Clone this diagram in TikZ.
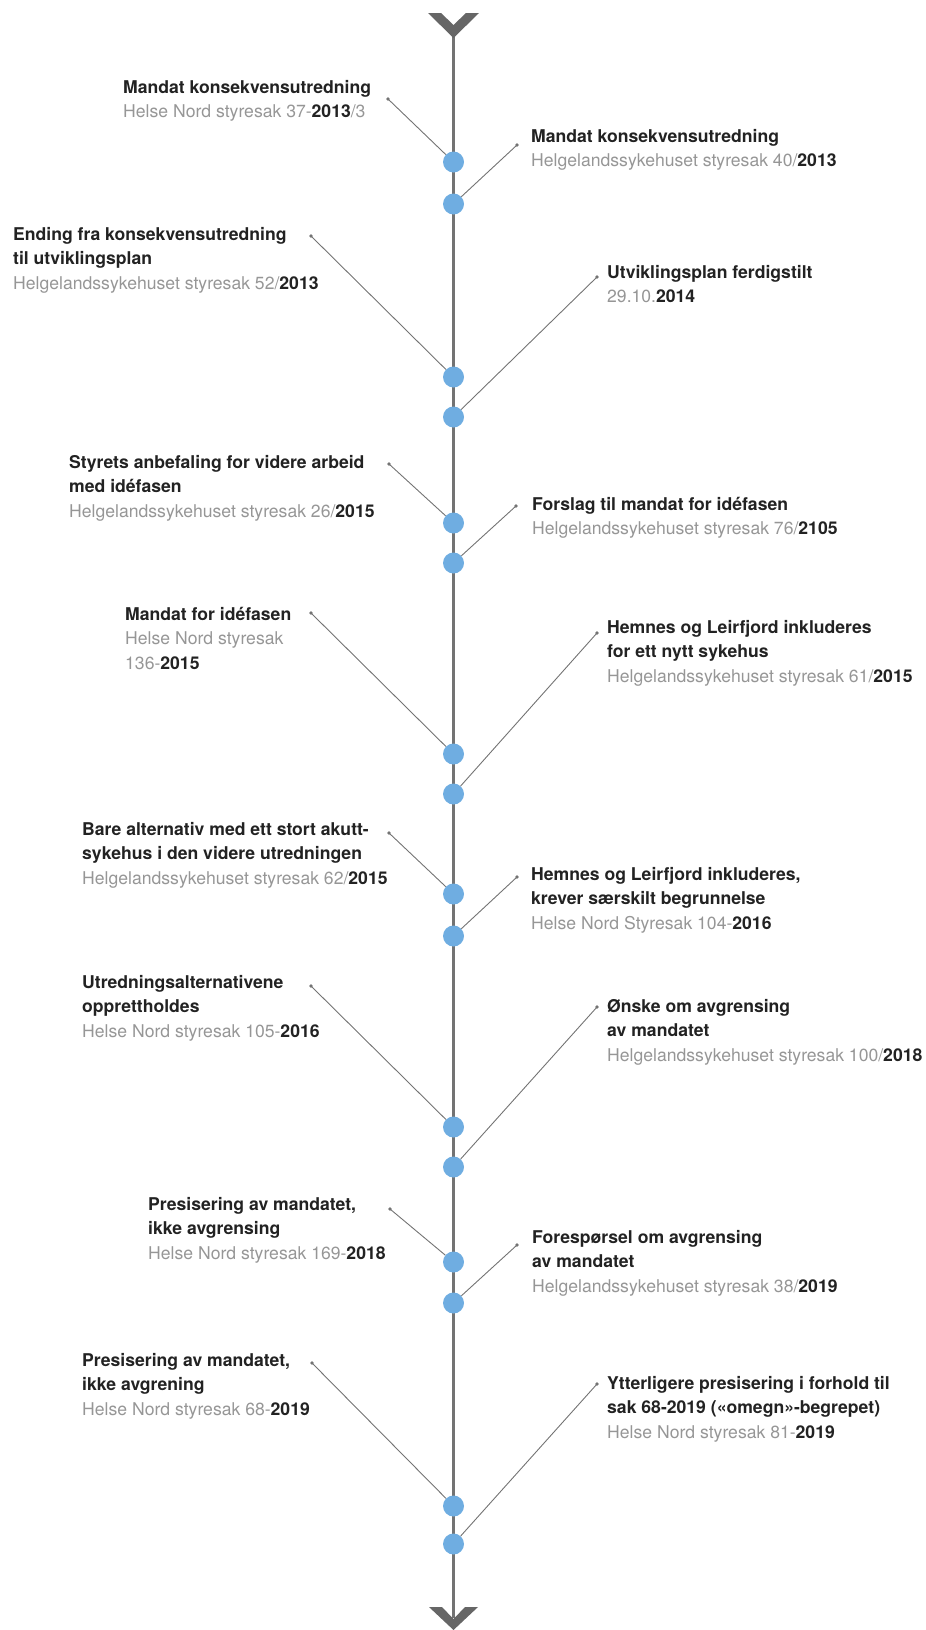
\documentclass[tikz,border=0pt]{standalone}
\usepackage{fontspec}
\setmainfont{TeX Gyre Heros}
\definecolor{dotblue}{RGB}{111,173,225}
\definecolor{linegray}{RGB}{115,115,115}
\definecolor{chevgray}{RGB}{102,102,102}
\definecolor{subgray}{RGB}{150,150,150}
\definecolor{titleblack}{RGB}{34,34,34}
\newcommand{\tittel}[1]{\textcolor{titleblack}{\bfseries #1}}
\newcommand{\aar}[1]{\textcolor{titleblack}{\bfseries #1}}
\newcommand{\sak}[1]{\begin{tabular}[t]{@{}l@{}}#1\end{tabular}}

\begin{document}
\begin{tikzpicture}[x=1pt,y=-1pt,
    event/.style={circle,fill=dotblue,inner sep=0pt,minimum size=21pt},
    sakbox/.style={anchor=base west,inner sep=0pt,text=subgray,
      font=\fontsize{17.6}{24.5}\selectfont},
    leader/.style={draw=linegray,line width=0.9pt}]
    \useasboundingbox (0,0) rectangle (926,1630);
    % time axis
    \coordinate (top) at (453.5,25);
    \coordinate (bot) at (453.5,1618);
    \draw[linegray,line width=2.2pt] (top) -- (bot);
    \fill[chevgray] (428,13) -- (441,13) -- (453.5,25) -- (466,13) -- (479,13) -- (453.5,38) -- cycle;
    \fill[chevgray] (429,1607) -- (442,1607) -- (453.5,1619) -- (465,1607) -- (478,1607) -- (453.5,1630) -- cycle;
    % events
    \node[event] (d1) at (453.5,162) {};
    \node[event] (d2) at (453.5,204) {};
    \node[event] (d3) at (453.5,377) {};
    \node[event] (d4) at (453.5,417) {};
    \node[event] (d5) at (453.5,523) {};
    \node[event] (d6) at (453.5,563) {};
    \node[event] (d7) at (453.5,754) {};
    \node[event] (d8) at (453.5,794) {};
    \node[event] (d9) at (453.5,894) {};
    \node[event] (d10) at (453.5,936) {};
    \node[event] (d11) at (453.5,1127) {};
    \node[event] (d12) at (453.5,1167) {};
    \node[event] (d13) at (453.5,1262) {};
    \node[event] (d14) at (453.5,1303) {};
    \node[event] (d15) at (453.5,1506) {};
    \node[event] (d16) at (453.5,1544) {};
    % left side
    \node[sakbox] (l1) at (123,93) {\sak{\tittel{Mandat konsekvensutredning}\\Helse Nord styresak 37-\aar{2013}/3}};
    \node[sakbox] (l2) at (13,240) {\sak{\tittel{Ending fra konsekvensutredning}\\\tittel{til utviklingsplan}\\Helgelandssykehuset styresak 52/\aar{2013}}};
    \node[sakbox] (l3) at (69,468) {\sak{\tittel{Styrets anbefaling for videre arbeid}\\\tittel{med idéfasen}\\Helgelandssykehuset styresak 26/\aar{2015}}};
    \node[sakbox] (l4) at (125,620) {\sak{\tittel{Mandat for idéfasen}\\Helse Nord styresak\\136-\aar{2015}}};
    \node[sakbox] (l5) at (82,835) {\sak{\tittel{Bare alternativ med ett stort akutt-}\\\tittel{sykehus i den videre utredningen}\\Helgelandssykehuset styresak 62/\aar{2015}}};
    \node[sakbox] (l6) at (82,988) {\sak{\tittel{Utredningsalternativene}\\\tittel{opprettholdes}\\Helse Nord styresak 105-\aar{2016}}};
    \node[sakbox] (l7) at (148,1210) {\sak{\tittel{Presisering av mandatet,}\\\tittel{ikke avgrensing}\\Helse Nord styresak 169-\aar{2018}}};
    \node[sakbox] (l8) at (82,1366) {\sak{\tittel{Presisering av mandatet,}\\\tittel{ikke avgrening}\\Helse Nord styresak 68-\aar{2019}}};
    % right side
    \node[sakbox] (r1) at (531,142) {\sak{\tittel{Mandat konsekvensutredning}\\Helgelandssykehuset styresak 40/\aar{2013}}};
    \node[sakbox] (r2) at (607,278) {\sak{\tittel{Utviklingsplan ferdigstilt}\\29.10.\aar{2014}}};
    \node[sakbox] (r3) at (532,510) {\sak{\tittel{Forslag til mandat for idéfasen}\\Helgelandssykehuset styresak 76/\aar{2105}}};
    \node[sakbox] (r4) at (607,633) {\sak{\tittel{Hemnes og Leirfjord inkluderes}\\\tittel{for ett nytt sykehus}\\Helgelandssykehuset styresak 61/\aar{2015}}};
    \node[sakbox] (r5) at (531,880) {\sak{\tittel{Hemnes og Leirfjord inkluderes,}\\\tittel{krever særskilt begrunnelse}\\Helse Nord Styresak 104-\aar{2016}}};
    \node[sakbox] (r6) at (607,1012) {\sak{\tittel{Ønske om avgrensing}\\\tittel{av mandatet}\\Helgelandssykehuset styresak 100/\aar{2018}}};
    \node[sakbox] (r7) at (532,1243) {\sak{\tittel{Forespørsel om avgrensing}\\\tittel{av mandatet}\\Helgelandssykehuset styresak 38/\aar{2019}}};
    \node[sakbox] (r8) at (607,1389) {\sak{\tittel{Ytterligere presisering i forhold til}\\\tittel{sak 68-2019 («omegn»-begrepet)}\\Helse Nord styresak 81-\aar{2019}}};
    % leader ends
    \coordinate (p1) at (388,99);
    \coordinate (p2) at (311,236);
    \coordinate (p3) at (389,464);
    \coordinate (p4) at (311,613);
    \coordinate (p5) at (389,833);
    \coordinate (p6) at (311,986);
    \coordinate (p7) at (390,1209);
    \coordinate (p8) at (312,1363);
    \coordinate (q1) at (517,145);
    \coordinate (q2) at (597,277);
    \coordinate (q3) at (516,506);
    \coordinate (q4) at (597,633);
    \coordinate (q5) at (517,877);
    \coordinate (q6) at (597,1007);
    \coordinate (q7) at (517,1245);
    \coordinate (q8) at (597,1384);
    % leaders
    \draw[leader] (p1) -- (d1);
    \draw[leader] (p2) -- (d3);
    \draw[leader] (p3) -- (d5);
    \draw[leader] (p4) -- (d7);
    \draw[leader] (p5) -- (d9);
    \draw[leader] (p6) -- (d11);
    \draw[leader] (p7) -- (d13);
    \draw[leader] (p8) -- (d15);
    \draw[leader] (d2) -- (q1);
    \draw[leader] (d4) -- (q2);
    \draw[leader] (d6) -- (q3);
    \draw[leader] (d8) -- (q4);
    \draw[leader] (d10) -- (q5);
    \draw[leader] (d12) -- (q6);
    \draw[leader] (d14) -- (q7);
    \draw[leader] (d16) -- (q8);
    \fill[linegray] (p1) circle (1.8pt) (p2) circle (1.8pt) (p3) circle (1.8pt) (p4) circle (1.8pt)
      (p5) circle (1.8pt) (p6) circle (1.8pt) (p7) circle (1.8pt) (p8) circle (1.8pt);
    \fill[linegray] (q1) circle (1.8pt) (q2) circle (1.8pt) (q3) circle (1.8pt) (q4) circle (1.8pt)
      (q5) circle (1.8pt) (q6) circle (1.8pt) (q7) circle (1.8pt) (q8) circle (1.8pt);
\end{tikzpicture}
\end{document}
